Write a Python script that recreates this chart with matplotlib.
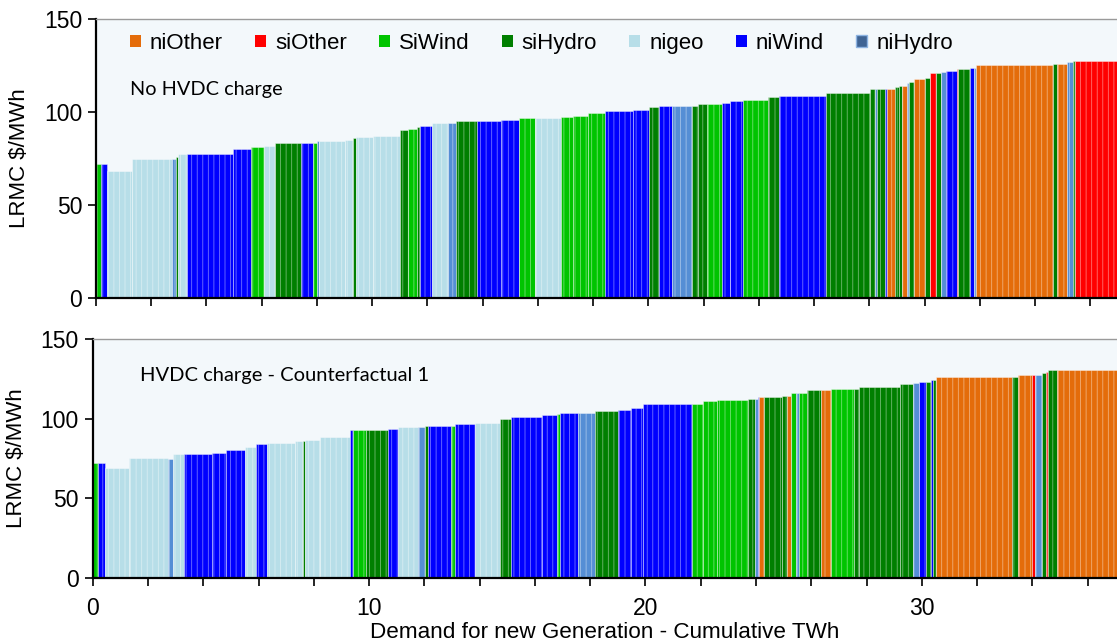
import numpy as np
import matplotlib
matplotlib.use("Agg")
import matplotlib.pyplot as plt
from matplotlib.patches import Patch

plt.rcParams['font.family'] = ['Liberation Sans', 'DejaVu Sans']
plt.rcParams['hatch.linewidth'] = 0.6

# colours of each generation type
colors = {
    'niOther': '#E46C0A',
    'siOther': '#FF0000',
    'SiWind': '#00C400',
    'siHydro': '#007F00',
    'nigeo': '#B7DEE8',
    'niWind': '#0000FF',
    'niHydro': '#558ED5',
}
legend_order = ['niOther', 'siOther', 'SiWind', 'siHydro', 'nigeo', 'niWind', 'niHydro']

# top panel: No HVDC charge (type, cumulative TWh at right edge, LRMC $/MWh)
top_type = ['SiWind', 'niWind', 'nigeo', 'nigeo', 'niHydro', 'siHydro', 'nigeo', 'niWind', 'niWind', 'SiWind',
            'nigeo', 'siHydro', 'niWind', 'SiWind', 'niHydro', 'nigeo', 'nigeo', 'siHydro', 'nigeo', 'nigeo',
            'siHydro', 'SiWind', 'siHydro', 'niWind', 'nigeo', 'niHydro', 'siHydro', 'niWind', 'niWind', 'SiWind',
            'nigeo', 'SiWind', 'SiWind', 'SiWind', 'niWind', 'niWind', 'siHydro', 'niWind', 'niHydro', 'siHydro',
            'siHydro', 'SiWind', 'niWind', 'niWind', 'SiWind', 'siHydro', 'niWind', 'siHydro', 'siHydro', 'niHydro',
            'siHydro', 'niWind', 'niOther', 'siHydro', 'siHydro', 'niOther', 'niHydro', 'siHydro', 'niOther', 'siHydro',
            'siOther', 'siHydro', 'niHydro', 'niWind', 'siOther', 'siHydro', 'niWind', 'niHydro', 'niOther', 'siHydro',
            'niOther', 'niHydro', 'siHydro', 'siOther']
top_end = [0.17, 0.41, 1.29, 2.74, 2.90, 2.96, 3.28, 4.97, 5.60, 6.08,
           6.49, 7.41, 7.85, 7.99, 8.06, 9.02, 9.32, 9.40, 10.04, 11.01,
           11.31, 11.61, 11.73, 12.15, 12.76, 13.02, 13.81, 14.66, 15.33, 15.89,
           16.82, 17.28, 17.80, 18.43, 19.45, 20.02, 20.40, 20.84, 21.57, 21.81,
           22.11, 22.65, 22.96, 23.43, 24.34, 24.74, 26.45, 28.04, 28.20, 28.29,
           28.57, 28.65, 28.93, 29.07, 29.19, 29.35, 29.45, 29.62, 30.01, 30.20,
           30.42, 30.58, 30.77, 31.16, 31.20, 31.66, 31.79, 31.86, 34.64, 34.78,
           35.16, 35.36, 35.44, 37.20]
top_lrmc = [72.0, 72.0, 68.5, 74.5, 74.5, 75.8, 77.4, 77.4, 80.0, 81.2,
            81.9, 83.5, 83.5, 83.5, 84.4, 84.4, 85.1, 85.8, 86.6, 87.1,
            90.3, 91.0, 91.9, 92.5, 94.2, 94.2, 95.2, 95.2, 95.9, 96.6,
            96.6, 97.3, 98.0, 99.6, 100.4, 101.1, 102.7, 103.2, 103.2, 103.4,
            104.1, 104.1, 105.0, 105.7, 106.5, 107.9, 108.8, 110.2, 112.4, 112.4,
            112.4, 112.4, 112.4, 113.3, 114.2, 114.2, 115.4, 116.3, 117.7, 118.4,
            120.8, 120.8, 121.5, 122.2, 123.1, 123.1, 123.8, 123.8, 125.3, 126.0,
            126.0, 126.9, 127.4, 127.6]

# bottom panel: HVDC charge - Counterfactual 1
bot_type = ['SiWind', 'niWind', 'nigeo', 'nigeo', 'niHydro', 'nigeo', 'niWind', 'niWind', 'niWind', 'nigeo',
            'niWind', 'nigeo', 'nigeo', 'siHydro', 'nigeo', 'nigeo', 'niWind', 'SiWind', 'siHydro', 'niWind',
            'nigeo', 'niHydro', 'siHydro', 'niWind', 'SiWind', 'niWind', 'nigeo', 'siHydro', 'niWind', 'niWind',
            'SiWind', 'niWind', 'niHydro', 'siHydro', 'niWind', 'niWind', 'niWind', 'SiWind', 'SiWind', 'SiWind',
            'siHydro', 'niHydro', 'niWind', 'niOther', 'siHydro', 'siHydro', 'niOther', 'SiWind', 'niHydro', 'SiWind',
            'siHydro', 'niOther', 'SiWind', 'siHydro', 'siHydro', 'siHydro', 'niHydro', 'niWind', 'siHydro', 'niWind',
            'siHydro', 'niOther', 'siHydro', 'niOther', 'siOther', 'niHydro', 'siHydro', 'siOther', 'siHydro', 'niOther']
bot_end = [0.20, 0.43, 1.30, 2.72, 2.91, 3.30, 4.32, 4.83, 5.50, 5.92,
           6.32, 7.31, 7.61, 7.69, 8.21, 9.30, 9.42, 9.88, 10.68, 11.05,
           11.77, 12.01, 12.13, 12.96, 13.11, 13.83, 14.74, 15.12, 16.24, 16.79,
           16.91, 17.57, 18.17, 19.02, 19.47, 19.92, 21.67, 22.09, 22.60, 23.72,
           23.96, 24.08, 24.11, 24.29, 24.93, 25.11, 25.26, 25.43, 25.56, 25.83,
           26.35, 26.70, 27.54, 27.74, 29.21, 29.67, 29.90, 30.14, 30.33, 30.41,
           30.50, 33.27, 33.49, 33.99, 34.09, 34.35, 34.49, 34.57, 34.88, 37.30]
bot_lrmc = [72.4, 72.4, 69.1, 75.2, 75.0, 77.7, 77.7, 78.7, 80.4, 82.3,
            84.0, 85.0, 85.9, 85.9, 86.7, 88.4, 93.0, 93.0, 92.8, 93.8,
            94.8, 94.8, 95.5, 95.6, 95.6, 96.5, 97.4, 100.1, 101.1, 102.0,
            103.0, 103.8, 103.8, 104.9, 105.5, 106.4, 109.3, 109.3, 111.0, 111.8,
            112.6, 112.6, 113.5, 113.5, 113.5, 114.5, 114.5, 116.2, 116.2, 116.2,
            118.1, 118.1, 118.9, 118.9, 119.8, 121.7, 122.5, 123.3, 123.3, 124.4,
            124.4, 126.1, 126.1, 127.1, 127.1, 127.7, 128.6, 129.4, 130.4, 130.4]


def draw_panel(ax, types, ends, lrmc, xmax, show_xlabels):
    ends = np.array(ends)
    left = np.concatenate([[0.0], ends[:-1]])
    ax.set_facecolor('#F3F8FB')
    ax.bar(left, lrmc, width=ends - left, align='edge',
           color=[colors[t] for t in types],
           edgecolor=(1, 1, 1, 0.45), linewidth=0.6, hatch='|||')
    ax.set_xlim(0, xmax)
    ax.set_ylim(0, 150)
    ax.set_yticks([0, 50, 100, 150])
    ax.set_xticks(np.arange(0, 38, 2))
    if show_xlabels:
        ax.set_xticklabels([str(v) if v % 10 == 0 else '' for v in range(0, 38, 2)])
    else:
        ax.set_xticklabels([])
    ax.tick_params(axis='both', direction='out', length=6, width=1.2,
                   labelsize=16.5, color='black')
    ax.tick_params(axis='x', pad=8)
    ax.tick_params(axis='y', pad=4)
    ax.spines['left'].set_linewidth(1.6)
    ax.spines['bottom'].set_linewidth(1.6)
    ax.spines['top'].set_color('#9a9a9a')
    ax.spines['top'].set_linewidth(1.0)
    ax.spines['right'].set_visible(False)
    ax.set_ylabel('LRMC \\$/MWh', fontsize=16, labelpad=10)


fig = plt.figure(figsize=(11.17, 6.44), dpi=100)
ax1 = fig.add_axes([96 / 1117, 1 - 298 / 644, 1 - 96 / 1117, 279 / 644])
ax2 = fig.add_axes([92.7 / 1117, 1 - 578 / 644, 1 - 92.7 / 1117, 239 / 644])

draw_panel(ax1, top_type, top_end, top_lrmc, 36.97, False)
draw_panel(ax2, bot_type, bot_end, bot_lrmc, 37.06, True)

ax1.text(0.033, 0.747, 'No HVDC charge', transform=ax1.transAxes,
         fontsize=14.3, family=['Lato', 'DejaVu Sans'], va='center', ha='left')
ax2.text(0.046, 0.849, 'HVDC charge - Counterfactual 1', transform=ax2.transAxes,
         fontsize=14.5, family=['Lato', 'DejaVu Sans'], va='center', ha='left')

handles = []
for k in legend_order:
    if k == 'niHydro':
        handles.append(Patch(facecolor='#3F6494', edgecolor='#8DB4E2', linewidth=1))
    else:
        handles.append(Patch(facecolor=colors[k], edgecolor='none'))
ax1.legend(handles, legend_order, ncol=7, loc='center left',
           bbox_to_anchor=(0.033, 0.912), frameon=False, fontsize=16,
           handlelength=0.5, handleheight=0.5, handletextpad=0.4,
           columnspacing=1.45, borderaxespad=0, borderpad=0)

fig.text(605 / 1117, 6 / 644, 'Demand for new Generation - Cumulative TWh',
         ha='center', va='baseline', fontsize=16.2)

fig.savefig('out.png', dpi=100)
